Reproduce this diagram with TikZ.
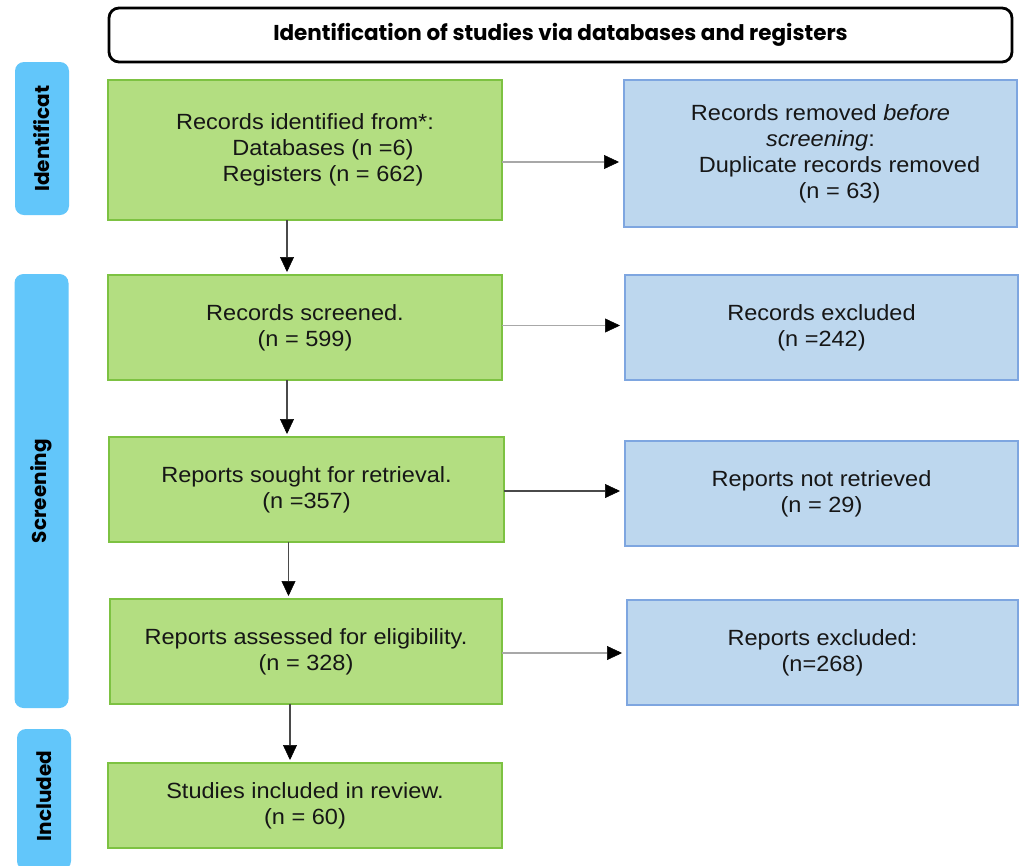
\documentclass[tikz,border=0pt]{standalone}
\usepackage{fontspec}
\setmainfont{Liberation Sans}[FakeStretch=1.07]
\newfontfamily\headfont{Poppins}
\usetikzlibrary{arrows.meta}
\definecolor{gfill}{HTML}{B3DE81}
\definecolor{gline}{HTML}{7DC242}
\definecolor{bfill}{HTML}{BDD7EE}
\definecolor{bline}{HTML}{7EA6E0}
\definecolor{sfill}{HTML}{62C6FA}
\definecolor{txt}{HTML}{161616}
\definecolor{lgray}{HTML}{A8A8A8}
\definecolor{dgray}{HTML}{4A4A4A}
\begin{document}
\begin{tikzpicture}[x=1pt,y=-1pt,
  every node/.style={inner sep=0pt,outer sep=0pt,text=txt},
  boxtext/.style={align=center,font=\fontsize{22}{26}\selectfont},
  gbox/.style={boxtext,draw=gline,fill=gfill,line width=1.6pt},
  bbox/.style={boxtext,draw=bline,fill=bfill,line width=1.6pt},
  sidebox/.style={fill=sfill,rounded corners=9pt,minimum width=54pt},
  sidetext/.style={rotate=90,font=\headfont\bfseries\fontsize{20}{22}\selectfont,text=black},
  tip/.style={-{Triangle[length=15pt,width=14pt,black,line width=0.5pt]}},
  harrow/.style={tip,draw=lgray,line width=1.8pt,shorten >=5pt},
  harrowdark/.style={tip,draw=dgray,line width=2.2pt,shorten >=5pt},
  varrow/.style={tip,draw=dgray,line width=1.5pt,shorten >=3pt}
]
\useasboundingbox[fill=white] (0,0) rectangle (1022,865);
\begin{scope}
\clip (0,0) rectangle (1022,865);
% header
\node[draw=black,line width=2.8pt,rounded corners=10pt,minimum width=903pt,minimum height=54pt,
  font=\headfont\bfseries\fontsize{21.5}{24}\selectfont,text=black] (head) at (560.5,35)
  {Identification of studies via databases and registers};
% side labels
\node[sidebox,minimum height=153pt] (s1) at (42,138.5) {};
\node[sidetext] (s1t) at (s1) {Identificat};
\node[sidebox,minimum height=434pt] (s2) at (41.5,491) {};
\node[sidetext] (s2t) at (s2) {Screening};
\node[sidebox,minimum height=141pt] (s3) at (44,799.5) {};
\node[sidetext] (s3t) at (44,796) {Included};
\end{scope}
% left column
\node[gbox,minimum width=394pt,minimum height=140pt] (b1) at (305,150)
  {Records identified from*:\\ \hspace*{36pt}Databases (n =6)\\ \hspace*{36pt}Registers (n = 662)};
\node[gbox,minimum width=394pt,minimum height=105pt] (b2) at (305,327.5)
  {Records screened.\\(n = 599)};
\node[gbox,minimum width=395pt,minimum height=105pt] (b3) at (306.5,489.5)
  {Reports sought for retrieval.\\(n =357)};
\node[gbox,minimum width=392pt,minimum height=105pt] (b4) at (306,651.5)
  {Reports assessed for eligibility.\\(n = 328)};
\node[gbox,minimum width=394pt,minimum height=85pt] (b5) at (305,805.5)
  {Studies included in review.\\(n = 60)};
% right column
\node[bbox,minimum width=393pt,minimum height=147pt] (r1) at (820.5,153.5)
  {Records removed \textit{before}\\ \textit{screening}:\\ \hspace*{38pt}Duplicate records removed\\ \hspace*{38pt}(n = 63)};
\node[bbox,minimum width=393pt,minimum height=105pt] (r2) at (821.5,327.5)
  {Records excluded\\(n =242)};
\node[bbox,minimum width=393pt,minimum height=105pt] (r3) at (821.5,493.5)
  {Reports not retrieved\\(n = 29)};
\node[bbox,minimum width=391pt,minimum height=105pt] (r4) at (822.5,652.5)
  {Reports excluded:\\(n=268)};
% horizontal arrows
\draw[harrow] ([yshift=-12pt]b1.east) -- ([yshift=-12pt]b1.east -| r1.west);
\draw[harrow] ([yshift=2pt]b2.east) -- ([yshift=2pt]b2.east -| r2.west);
\draw[harrowdark] ([yshift=-1.5pt]b3.east) -- ([yshift=-1.5pt]b3.east -| r3.west);
\draw[harrow] ([yshift=-1.5pt]b4.east) -- ([yshift=-1.5pt]b4.east -| r4.west);
% vertical arrows
\draw[varrow] ([xshift=-18pt]b1.south) -- ([xshift=-18pt]b1.south |- b2.north);
\draw[varrow] ([xshift=-18pt]b2.south) -- ([xshift=-18pt]b2.south |- b3.north);
\draw[varrow] ([xshift=-18pt]b3.south) -- ([xshift=-18pt]b3.south |- b4.north);
\draw[varrow] ([xshift=-16pt]b4.south) -- ([xshift=-16pt]b4.south |- b5.north);
\end{tikzpicture}
\end{document}
